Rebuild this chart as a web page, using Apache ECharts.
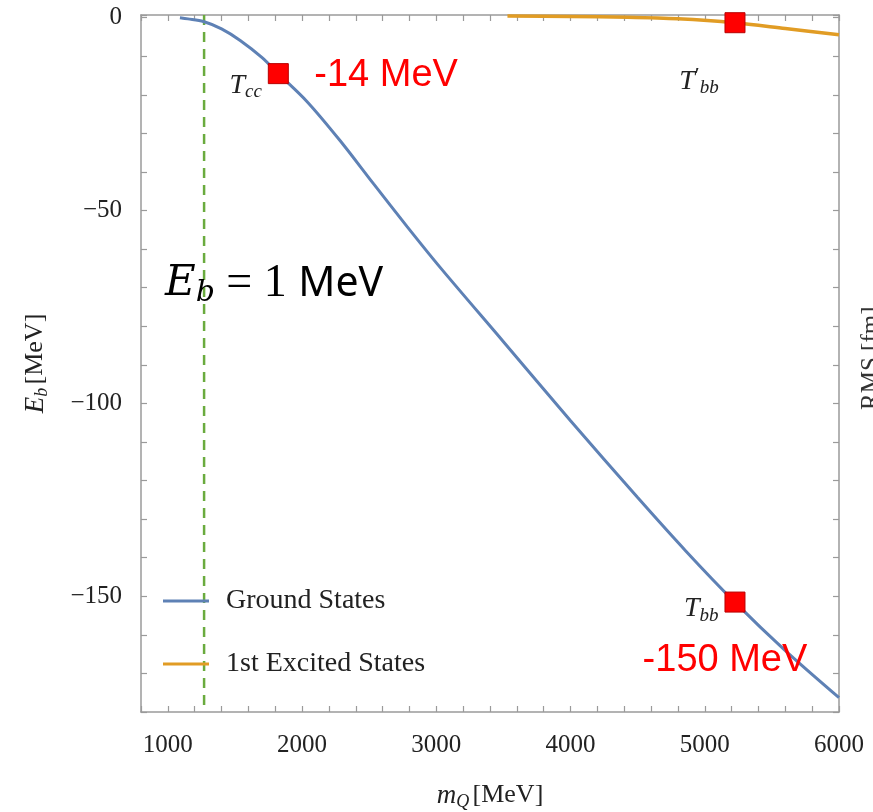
<!DOCTYPE html>
<html>
<head>
<meta charset="utf-8">
<script src="https://cdn.jsdelivr.net/npm/echarts@6/dist/echarts.min.js"></script>
<style>
html,body{margin:0;padding:0;background:#fff;}
#chart{width:873px;height:812px;}
</style>
</head>
<body>
<div id="chart"></div>
<script>
// ---- data ----
const groundMass   = [1090, 1150, 1265, 1400, 1539, 1700, 1823, 2036, 2284, 2533, 2781, 3030, 3500, 4000, 4500, 4860, 5220, 5600, 6000];
const groundEnergy = [0, -0.3, -1.0, -2.9, -5.9, -10.3, -14.5, -21.7, -31.9, -43.1, -54.1, -64.8, -84.0, -104.5, -124.4, -138.3, -151.4, -164.1, -176.3];
const excitedMass   = [3530, 4000, 4425, 4800, 5220, 5600, 6000];
const excitedEnergy = [0.45, 0.3, 0.1, -0.3, -1.3, -2.8, -4.4];
const stateNames  = ['Tcc', 'Tbb', "T'bb"];
const stateMass   = [1823, 5225, 5225];
const stateEnergy = [-14.5, -151.5, -1.3];
const stateValueText = ['-14 MeV', '-150 MeV', ''];
const thresholdMass = 1270;
const thresholdLabelEnergy = -69;
const xTicks = [1000, 2000, 3000, 4000, 5000, 6000];
const yTicks = [0, -50, -100, -150];
const xMin = 800, xMax = 6000, yMin = -180, yMax = 0.7;

const serif = 'Liberation Serif';
const chart = echarts.init(document.getElementById('chart'), null, {renderer: 'canvas'});

const nameRich = {
  t: {fontFamily: serif, fontStyle: 'italic', fontSize: 28, color: '#222'},
  s: {fontFamily: serif, fontStyle: 'italic', fontSize: 19, color: '#222', verticalAlign: 'bottom', padding: [13, 0, 0, 0]},
  p: {fontFamily: serif, fontSize: 22, color: '#222', verticalAlign: 'top', padding: [0, 0, 8, 0]}
};
const stateLabelText = ['{t|T}{s|cc}', '{t|T}{s|bb}', '{t|T}{p|′}{s|bb}'];
const stateLabelPos = [
  {position: 'left', distance: 6, offset: [0, 12]},
  {position: 'left', distance: 6, offset: [0, 7]},
  {position: 'bottom', distance: 14, offset: [-36, 18]}
];

const noBorder = {textBorderWidth: 0, textBorderColor: 'transparent', textShadowBlur: 0};

const stateData = stateMass.map((m, i) => ({
  value: [m, stateEnergy[i]],
  name: stateNames[i],
  label: Object.assign({show: true, formatter: stateLabelText[i], rich: nameRich}, noBorder, stateLabelPos[i])
}));

const valueLabelPos = [
  {position: 'right', distance: 36, offset: [0, 2]},
  {position: 'bottom', distance: 22, offset: [-10, 17]},
  {position: 'right'}
];
const valueData = stateMass.map((m, i) => ({
  value: [m, stateEnergy[i]],
  label: Object.assign({show: stateValueText[i] !== '', formatter: stateValueText[i]}, valueLabelPos[i])
}));

const fmtMinus = v => (v < 0 ? '\u2212' + (-v) : String(v));

const baseX = {
  type: 'value', min: xMin, max: xMax, interval: 200,
  splitLine: {show: false},
  axisLine: {show: true, onZero: false, lineStyle: {color: '#9a9a9a', width: 1.5}},
  axisTick: {show: true, inside: true, length: 6, lineStyle: {color: '#9a9a9a', width: 1.2}}
};
const baseY = {
  type: 'value', min: yMin, max: yMax, interval: 10,
  splitLine: {show: false},
  axisLine: {show: true, onZero: false, lineStyle: {color: '#9a9a9a', width: 1.5}},
  axisTick: {show: true, inside: true, length: 6, lineStyle: {color: '#9a9a9a', width: 1.2}}
};

const option = {
  backgroundColor: '#fff',
  animation: false,
  grid: {left: 141, right: 34, top: 15, bottom: 100, containLabel: false, outerBoundsMode: 'none'},
  xAxis: [
    Object.assign({}, baseX, {
      position: 'bottom',
      name: '{i|m}{s|Q} {n|[MeV]}',
      nameLocation: 'middle', nameGap: 68,
      nameTextStyle: {
        rich: {
          i: {fontFamily: serif, fontStyle: 'italic', fontSize: 27, color: '#222'},
          s: {fontFamily: serif, fontStyle: 'italic', fontSize: 18, color: '#222', verticalAlign: 'bottom', padding: [13, 0, 0, 0]},
          n: {fontFamily: serif, fontSize: 26, color: '#222'}
        }
      },
      axisLabel: {
        margin: 21, fontFamily: serif, fontSize: 25, color: '#222',
        formatter: v => (xTicks.indexOf(v) >= 0 ? String(v) : '')
      }
    }),
    Object.assign({}, baseX, {position: 'top', axisLabel: {show: false}})
  ],
  yAxis: [
    Object.assign({}, baseY, {
      position: 'left',
      name: '{i|E}{s|b} {n|[MeV]}',
      nameLocation: 'middle', nameGap: 90, nameRotate: 90,
      nameTextStyle: {
        rich: {
          i: {fontFamily: serif, fontStyle: 'italic', fontSize: 27, color: '#222'},
          s: {fontFamily: serif, fontStyle: 'italic', fontSize: 18, color: '#222', verticalAlign: 'bottom', padding: [13, 0, 0, 0]},
          n: {fontFamily: serif, fontSize: 26, color: '#222'}
        }
      },
      axisLabel: {
        margin: 19, fontFamily: serif, fontSize: 25, color: '#222',
        formatter: v => (yTicks.indexOf(v) >= 0 ? fmtMinus(v) : '')
      }
    }),
    Object.assign({}, baseY, {position: 'right', axisLabel: {show: false}})
  ],
  legend: {
    orient: 'vertical', left: 158, top: 582, itemGap: 35,
    itemWidth: 46, itemHeight: 3, icon: 'rect',
    data: ['Ground States', '1st Excited States'],
    textStyle: {fontFamily: serif, fontSize: 28, color: '#222', padding: [0, 0, 0, 12]}
  },
  series: [
    {
      name: 'threshold', type: 'line', silent: true, symbol: 'none',
      data: [[thresholdMass, yMax], [thresholdMass, yMin]],
      lineStyle: {color: '#6aab3e', width: 2.5, type: [10, 7]},
      z: 2
    },
    {
      name: 'thresholdLabel', type: 'scatter', symbolSize: 0, silent: true,
      data: [[thresholdMass, thresholdLabelEnergy]],
      itemStyle: {opacity: 1},
      label: Object.assign({
        show: true, position: 'inside', offset: [70, 0],
        formatter: '{e|E}{b|b}{t| = 1 }{m|MeV}',
        rich: {
          e: {fontFamily: 'DejaVu Serif', fontStyle: 'italic', fontSize: 42, color: '#000'},
          b: {fontFamily: 'DejaVu Serif', fontStyle: 'italic', fontSize: 30, color: '#000', verticalAlign: 'bottom', padding: [18, 0, 0, 0]},
          t: {fontFamily: serif, fontSize: 46, color: '#000'},
          m: {fontFamily: 'Noto Sans', fontSize: 41, color: '#000'}
        }
      }, noBorder),
      z: 6
    },
    {
      name: 'Ground States', type: 'line', symbol: 'none', smooth: 0.3,
      data: groundMass.map((m, i) => [m, groundEnergy[i]]),
      lineStyle: {color: '#5e81b5', width: 3}, itemStyle: {color: '#5e81b5'},
      z: 3
    },
    {
      name: '1st Excited States', type: 'line', symbol: 'none', smooth: 0.3,
      data: excitedMass.map((m, i) => [m, excitedEnergy[i]]),
      lineStyle: {color: '#e19c24', width: 3.5}, itemStyle: {color: '#e19c24'},
      z: 3
    },
    {
      name: 'states', type: 'scatter', symbol: 'rect', symbolSize: 20,
      data: stateData,
      itemStyle: {color: '#ff0000', borderColor: '#b80000', borderWidth: 1, opacity: 1},
      z: 5
    },
    {
      name: 'stateValues', type: 'scatter', symbolSize: 0, silent: true,
      data: valueData,
      itemStyle: {opacity: 1},
      label: Object.assign({fontFamily: 'Liberation Sans', fontSize: 38, color: '#ff0000'}, noBorder),
      z: 6
    }
  ],
  graphic: [
    {
      type: 'text', x: 871, y: 410, rotation: Math.PI / 2, silent: true,
      style: {text: 'RMS [fm]', font: '25px "Liberation Serif"', fill: '#333', align: 'left', verticalAlign: 'middle'}
    }
  ]
};
chart.setOption(option);
</script>
</body>
</html>
